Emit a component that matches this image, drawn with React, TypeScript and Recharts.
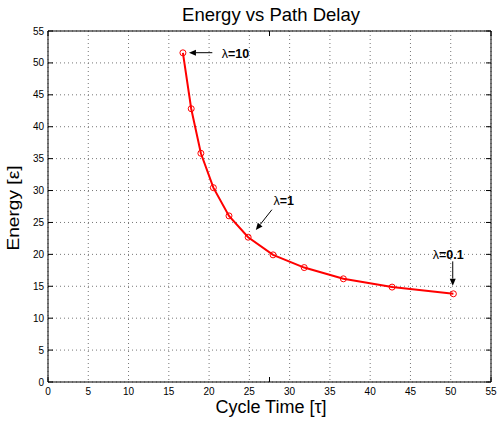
import { LineChart, Line, XAxis, YAxis, CartesianGrid, ReferenceLine } from "recharts";

// values
const cycleTime = [16.75, 17.78, 18.98, 20.53, 22.47, 24.85, 27.94, 31.81, 36.67, 42.72, 50.33];
const energy = [51.58, 42.82, 35.84, 30.45, 26.03, 22.69, 19.92, 17.93, 16.17, 14.87, 13.82];
const axisTicks = [0, 5, 10, 15, 20, 25, 30, 35, 40, 45, 50, 55];

// annotation arrows (data units): label, tail, head
const noteLabels = ["λ=10", "λ=1", "λ=0.1"];
const noteTails = [
  [20.4, 51.6],
  [27.8, 27.0],
  [50.25, 18.9],
];
const noteHeads = [
  [17.5, 51.6],
  [25.8, 23.8],
  [50.25, 15.1],
];

const data = cycleTime.map((t, i) => ({ t, e: energy[i] }));

const FONT = "'Liberation Sans', Arial, Helvetica, sans-serif";
const tickStyle = { fontSize: 10, fill: "#000", fontFamily: FONT };

// text offset from arrow tail, in px
const textOffsets = [
  { dx: 9.5, dy: 5.4, anchor: "start" },
  { dx: 1.5, dy: -5, anchor: "start" },
  { dx: -4.5, dy: -2.7, anchor: "middle" },
];

function arrowShape(idx: number) {
  return (props: any) => {
    const { x1, y1, x2, y2 } = props;
    const ang = Math.atan2(y2 - y1, x2 - x1);
    const len = 7;
    const half = 3;
    const bx = x2 - len * Math.cos(ang);
    const by = y2 - len * Math.sin(ang);
    const px = -Math.sin(ang) * half;
    const py = Math.cos(ang) * half;
    const off = textOffsets[idx];
    const label = noteLabels[idx];
    return (
      <g>
        <line x1={x1} y1={y1} x2={bx} y2={by} stroke="#000" strokeWidth={1} />
        <polygon
          points={`${x2},${y2} ${bx + px},${by + py} ${bx - px},${by - py}`}
          fill="#000"
        />
        <text
          x={x1 + off.dx}
          y={y1 + off.dy}
          textAnchor={off.anchor}
          fontFamily={FONT}
          fontSize={12.5}
          fontWeight="bold"
          fill="#000"
        >
          <tspan fontWeight="normal">{label.slice(0, 1)}</tspan>
          {label.slice(1)}
        </text>
      </g>
    );
  };
}

const hiddenLabel = () => "";

export default function App() {
  return (
    <div style={{ position: "absolute", left: 0, top: 0, width: 498, height: 421, background: "#fff" }}>
      <LineChart
        width={498}
        height={421}
        data={data}
        margin={{ top: 31, right: 7, left: 0, bottom: 0 }}
      >
        <CartesianGrid stroke="#777" strokeDasharray="1 3" />
        <XAxis
          dataKey="t"
          type="number"
          domain={[0, 55]}
          ticks={axisTicks}
          allowDataOverflow
          height={39}
          tickLine={false}
          tickSize={0}
          tickMargin={6}
          axisLine={{ stroke: "#000", strokeWidth: 1 }}
          tick={tickStyle}
          interval={0}
        />
        <YAxis
          type="number"
          domain={[0, 55]}
          ticks={axisTicks}
          allowDataOverflow
          width={48}
          tickLine={false}
          tickSize={0}
          tickMargin={4}
          axisLine={{ stroke: "#000", strokeWidth: 1 }}
          tick={tickStyle}
          interval={0}
        />
        {/* inward ticks and the box */}
        <XAxis xAxisId="bin" orientation="bottom" mirror type="number" domain={[0, 55]} ticks={axisTicks} allowDataOverflow
          axisLine={false} tickSize={5} tickLine={{ stroke: "#000" }} tickFormatter={hiddenLabel} interval={0} />
        <XAxis xAxisId="top" orientation="top" mirror type="number" domain={[0, 55]} ticks={axisTicks} allowDataOverflow
          axisLine={{ stroke: "#000", strokeWidth: 1 }} tickSize={5} tickLine={{ stroke: "#000" }} tickFormatter={hiddenLabel} interval={0} />
        <YAxis yAxisId="lin" orientation="left" mirror type="number" domain={[0, 55]} ticks={axisTicks} allowDataOverflow
          axisLine={false} tickSize={5} tickLine={{ stroke: "#000" }} tickFormatter={hiddenLabel} interval={0} />
        <YAxis yAxisId="right" orientation="right" mirror type="number" domain={[0, 55]} ticks={axisTicks} allowDataOverflow
          axisLine={{ stroke: "#000", strokeWidth: 1 }} tickSize={5} tickLine={{ stroke: "#000" }} tickFormatter={hiddenLabel} interval={0} />
        <Line
          type="linear"
          dataKey="e"
          stroke="#ff0000"
          strokeWidth={2}
          dot={{ r: 3, stroke: "#ff0000", strokeWidth: 1, fill: "none" }}
          isAnimationActive={false}
        />
        {noteLabels.map((lab, i) => (
          <ReferenceLine
            key={lab}
            segment={[
              { x: noteTails[i][0], y: noteTails[i][1] },
              { x: noteHeads[i][0], y: noteHeads[i][1] },
            ]}
            shape={arrowShape(i)}
          />
        ))}
      </LineChart>
      <svg
        width={498}
        height={421}
        style={{ position: "absolute", left: 0, top: 0, pointerEvents: "none" }}
      >
        <text x={271} y={20.5} textAnchor="middle" fontFamily={FONT} fontSize={18.5} fill="#000">
          Energy vs Path Delay
        </text>
        <text x={271} y={413} textAnchor="middle" fontFamily={FONT} fontSize={18} fill="#000">
          Cycle Time [τ]
        </text>
        <text
          transform="translate(19 208) rotate(-90)"
          textAnchor="middle"
          fontFamily={FONT}
          fontSize={17}
          textLength={85}
          lengthAdjust="spacingAndGlyphs"
          fill="#000"
        >
          Energy [ε]
        </text>
      </svg>
    </div>
  );
}
